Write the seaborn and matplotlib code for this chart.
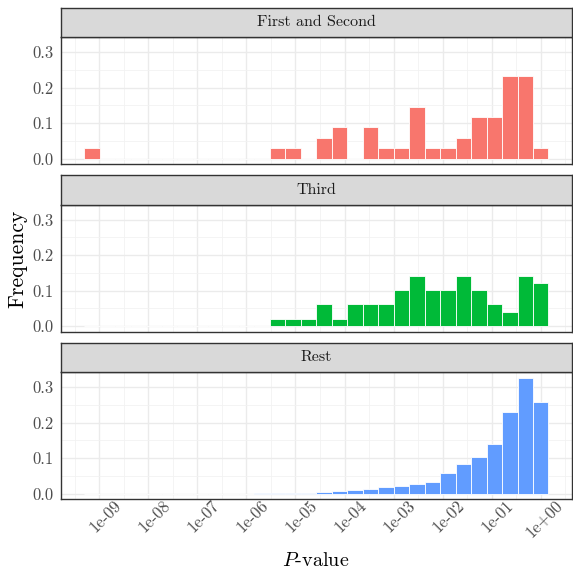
import numpy as np
import pandas as pd
import matplotlib
matplotlib.use("Agg")
import matplotlib.pyplot as plt
import matplotlib.transforms as mtransforms
import seaborn as sns

# Histogram bins on the log10 P-value scale (30 bins spanning the data range)
log_p_min = -9.148
log_p_max = 0.0
n_bins = 30

groups = ["First and Second", "Third", "Rest"]
colors = {"First and Second": "#F8766D", "Third": "#00BA38", "Rest": "#619CFF"}

# Frequency in each bin, from the smallest to the largest P-value
freq_first_second = [0.029, 0, 0, 0, 0, 0, 0, 0, 0, 0,
                     0, 0, 0.029, 0.029, 0, 0.059, 0.088, 0, 0.088, 0.029,
                     0.029, 0.146, 0.029, 0.029, 0.059, 0.117, 0.117, 0.234, 0.234, 0.029]
freq_third = [0, 0, 0, 0, 0, 0, 0, 0, 0, 0,
              0, 0, 0.020, 0.020, 0.020, 0.061, 0.020, 0.061, 0.061, 0.061,
              0.101, 0.142, 0.101, 0.101, 0.142, 0.101, 0.061, 0.040, 0.142, 0.121]
freq_rest = [0, 0, 0, 0, 0, 0, 0, 0, 0, 0,
             0, 0.0005, 0.0007, 0.0012, 0.0022, 0.004, 0.006, 0.0088, 0.0122, 0.0172,
             0.0215, 0.0275, 0.0335, 0.0565, 0.0835, 0.1025, 0.1395, 0.2295, 0.3255, 0.2585]

tick_values = [-9, -8, -7, -6, -5, -4, -3, -2, -1, 0]
tick_labels = ["1e-09", "1e-08", "1e-07", "1e-06", "1e-05",
               "1e-04", "1e-03", "1e-02", "1e-01", "1e+00"]
y_ticks = [0.0, 0.1, 0.2, 0.3]
y_tick_labels = ["0.0", "0.1", "0.2", "0.3"]

centers = np.linspace(log_p_min, log_p_max, n_bins)
bin_w = centers[1] - centers[0]
edges = [float(c - bin_w / 2) for c in centers] + [float(centers[-1] + bin_w / 2)]

df = pd.DataFrame({
    "group": np.repeat(groups, n_bins),
    "log_p": np.tile(centers, 3),
    "freq": np.concatenate([freq_first_second, freq_third, freq_rest]),
})

sns.set_theme(style="white")
plt.rcParams["font.family"] = ["cmr10", "DejaVu Serif"]
plt.rcParams["mathtext.fontset"] = "cm"
plt.rcParams["axes.formatter.use_mathtext"] = True

W, H = 573, 569
fig = plt.figure(figsize=(W / 100, H / 100), dpi=100)
fig.patch.set_facecolor("white")

# shared scale limits with 5% padding
x_lo, x_hi = edges[0], edges[-1]
x_pad = 0.05 * (x_hi - x_lo)
y_max = df["freq"].max()
y_pad = 0.05 * y_max

left_px, right_px = 61, 571.7
panel_tops = [37.3, 204.8, 372.3]
panel_h = 127.0
strip_h = 29.8

def fx(px):
    return px / W

def fy(px):
    return 1 - px / H

grey20 = "#333333"
for i, g in enumerate(groups):
    top = panel_tops[i]
    ax = fig.add_axes([fx(left_px), fy(top + panel_h), fx(right_px - left_px), panel_h / H])
    sub = df[df["group"] == g]
    sns.histplot(data=sub, x="log_p", weights="freq", bins=edges, stat="count",
                 color=colors[g], alpha=1, edgecolor="white", linewidth=0.6, ax=ax,
                 zorder=3)
    ax.set_xlim(x_lo - x_pad, x_hi + x_pad)
    ax.set_ylim(-y_pad, y_max + y_pad)
    ax.set_xticks(tick_values)
    ax.set_xticks([v - 0.5 for v in tick_values] + [0.5], minor=True)
    ax.set_yticks(y_ticks)
    ax.set_yticks([0.05, 0.15, 0.25], minor=True)
    ax.grid(True, which="major", color="#EBEBEB", linewidth=1.0, zorder=0)
    ax.grid(True, which="minor", color="#F2F2F2", linewidth=0.6, zorder=0)
    ax.set_axisbelow(True)
    ax.set_yticklabels(y_tick_labels, color="#4D4D4D", fontsize=12)
    ax.tick_params(axis="both", which="major", length=3.5, width=0.8, color=grey20,
                   direction="out", pad=2)
    ax.tick_params(axis="both", which="minor", length=0)
    if i == 2:
        ax.set_xticklabels(tick_labels, color="#4D4D4D", fontsize=12, rotation=45,
                           ha="right", va="top", rotation_mode="anchor")
        ax.tick_params(axis="x", which="major", pad=2)
        for lab in ax.get_xticklabels():
            lab.set_transform(lab.get_transform() +
                              mtransforms.ScaledTranslation(0.14, 0.09, fig.dpi_scale_trans))
    else:
        ax.set_xticklabels([])
    ax.set_xlabel("")
    ax.set_ylabel("")
    for s in ax.spines.values():
        s.set_color(grey20)
        s.set_linewidth(1.0)
        s.set_visible(True)

    # facet strip
    sax = fig.add_axes([fx(left_px), fy(top), fx(right_px - left_px), strip_h / H])
    sax.set_xticks([])
    sax.set_yticks([])
    sax.set_facecolor("#D9D9D9")
    for s in sax.spines.values():
        s.set_color(grey20)
        s.set_linewidth(1.0)
    sax.text(0.5, 0.5, g, ha="center", va="center", fontsize=11.5, color="#1A1A1A",
             transform=sax.transAxes)

fig.text(fx(18), fy(259), "Frequency",
         rotation=90, ha="center", va="center", fontsize=15.5, color="black")
fig.text(fx(316), fy(561), "$P$-value", ha="center", va="center", fontsize=14.5,
         color="black")

fig.savefig("out.png", dpi=100, facecolor="white")
